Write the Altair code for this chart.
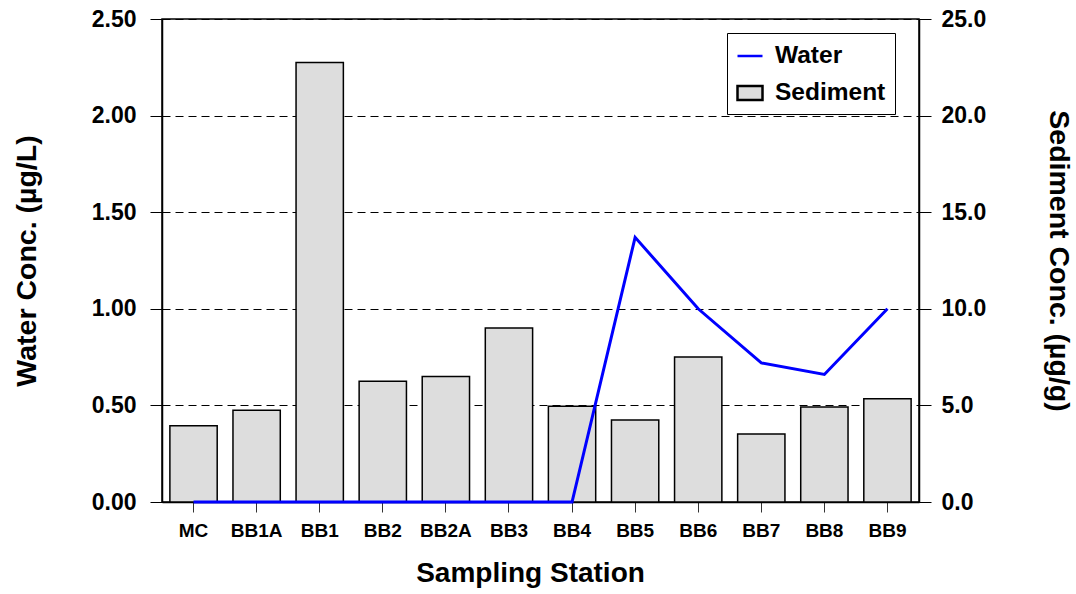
import altair as alt
import pandas as pd

# Sampling stations along the transect
stations = ["MC", "BB1A", "BB1", "BB2", "BB2A", "BB3", "BB4",
            "BB5", "BB6", "BB7", "BB8", "BB9"]
# Sediment concentration (ug/g), right axis
sediment = [3.95, 4.75, 22.75, 6.25, 6.5, 9.0, 4.95,
            4.25, 7.5, 3.52, 4.92, 5.35]
# Water concentration (ug/L), left axis
water = [0, 0, 0, 0, 0, 0, 0, 1.37, 1.0, 0.72, 0.66, 1.0]
series_names = ["Water", "Sediment"]

water_ticks = [0, 0.5, 1.0, 1.5, 2.0, 2.5]
sediment_ticks = [0, 5, 10, 15, 20, 25]

df = pd.DataFrame({"station": stations, "sediment": sediment, "water": water})
# one invisible point per series, used only to build the legend
legend_df = pd.DataFrame({"station": [stations[0]] * 2,
                          "water": [0, 0],
                          "series": series_names})

FONT = "Liberation Sans"

x_enc = alt.X(
    "station:N", sort=stations,
    scale=alt.Scale(paddingInner=0.25, paddingOuter=0.125),
    axis=alt.Axis(title="Sampling Station", labelAngle=0, tickSize=10,
                  labelPadding=9, titlePadding=19, titleX=368,
                  tickColor="#333333"),
)

y_water = alt.Y(
    "water:Q",
    scale=alt.Scale(domain=[0, 2.5], nice=False),
    axis=alt.Axis(title="Water Conc. (µg/L)", orient="left",
                  values=water_ticks, format=".2f", grid=True,
                  gridDash=[8, 5], gridColor="black", gridWidth=1,
                  gridOpacity=1, tickSize=12, labelPadding=14,
                  titlePadding=50),
)

bars = alt.Chart(df).mark_bar(
    color="#dddddd", stroke="black", strokeWidth=1.5
).encode(
    x=x_enc,
    y=alt.Y("sediment:Q",
            scale=alt.Scale(domain=[0, 25], nice=False),
            axis=alt.Axis(title="Sediment Conc. (µg/g)", orient="right",
                          values=sediment_ticks, format=".1f", grid=False,
                          tickSize=12, labelPadding=10, titlePadding=58)),
)

line = alt.Chart(df).mark_line(color="#0000ff", strokeWidth=3).encode(
    x=x_enc,
    y=y_water,
)

legend_props = dict(
    title=None, orient="none", legendX=565, legendY=14,
    strokeColor="black", fillColor="white", padding=9,
    labelFont=FONT, labelFontSize=24.5, labelFontWeight="bold",
    labelColor="black", symbolSize=625, symbolStrokeWidth=2.5,
    symbolOpacity=1, labelOffset=11, rowPadding=11, cornerRadius=0,
)

legend_points = alt.Chart(legend_df).mark_point(opacity=0, filled=True).encode(
    x=x_enc,
    y=y_water,
    shape=alt.Shape("series:N",
                    scale=alt.Scale(domain=series_names,
                                    range=["stroke", "M-1,-0.56H1V0.56H-1Z"]),
                    legend=alt.Legend(**legend_props)),
    fill=alt.Fill("series:N",
                  scale=alt.Scale(domain=series_names,
                                  range=["#0000ff", "#dddddd"]),
                  legend=alt.Legend(**legend_props)),
    stroke=alt.Stroke("series:N",
                      scale=alt.Scale(domain=series_names,
                                      range=["#0000ff", "#000000"]),
                      legend=alt.Legend(**legend_props)),
)

chart = alt.layer(
    bars, alt.layer(line, legend_points)
).resolve_scale(
    y="independent"
).properties(
    width=757, height=483,
    padding={"left": 162, "top": 19, "right": 157, "bottom": 92},
    autosize=alt.AutoSizeParams(type="none"),
    background="white",
).configure_axis(
    labelFont=FONT, titleFont=FONT,
    labelFontWeight="bold", titleFontWeight="bold",
    labelColor="black", titleColor="black",
    domainColor="black", domainWidth=1.5, tickColor="black",
).configure_axisX(
    labelFontSize=19, titleFontSize=28,
).configure_axisY(
    labelFontSize=23, titleFontSize=28.5,
).configure_view(
    stroke="black", strokeWidth=1.5,
)

chart.save("out.html", embed_options={"renderer": "svg", "actions": False})
